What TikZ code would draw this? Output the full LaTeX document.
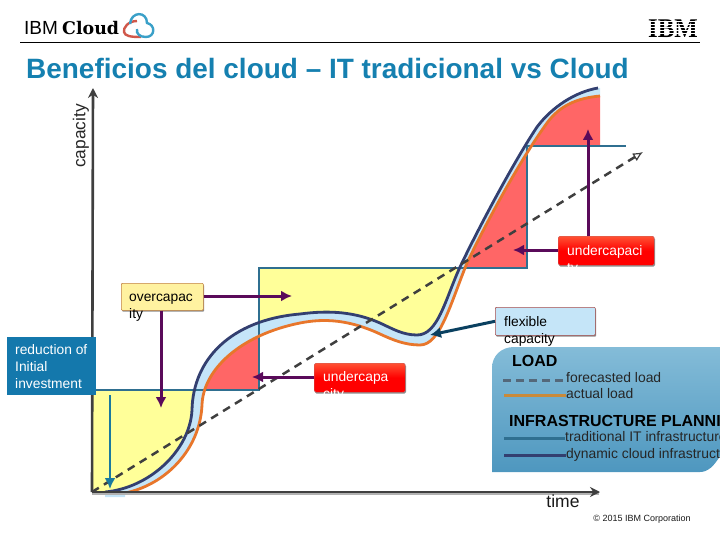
\documentclass[tikz,border=0pt]{standalone}
\usepackage{fontspec}
\setmainfont{Liberation Sans}
\newfontfamily\slabfont{DejaVu Serif}
\newfontfamily\ibmfont{Liberation Serif}
\usetikzlibrary{arrows.meta,shadows}
\definecolor{titleblue}{HTML}{1580B0}
\definecolor{fillyellow}{HTML}{FFFF99}
\definecolor{fillred}{HTML}{FF6666}
\definecolor{bandblue}{HTML}{C5E5F8}
\definecolor{navycurve}{HTML}{333F70}
\definecolor{orangecurve}{HTML}{E8762B}
\definecolor{steplineblue}{HTML}{2F6F90}
\definecolor{axisgrey}{HTML}{3F3F3F}
\definecolor{arrowpurple}{HTML}{5A0A5A}
\definecolor{boxblue}{HTML}{1478AC}
\definecolor{paneltop}{HTML}{84BCD8}
\definecolor{panelbot}{HTML}{4E97BF}
\definecolor{legdash}{HTML}{54687A}
\definecolor{legact}{HTML}{C98A3A}
\definecolor{boxyellow}{HTML}{FFF2A0}
\definecolor{boxbrown}{HTML}{C08040}
\definecolor{flexarrow}{HTML}{0A4060}
\definecolor{reduarrow}{HTML}{1A7A9E}
\definecolor{logored}{HTML}{D0584A}
\definecolor{logoblue}{HTML}{3AA0C8}
\def\navypath{(105,492) .. controls (150,488) and (190,450) .. (192,410) .. controls (193,360) and (230,320) .. (300,314) .. controls (330,310) and (355,312) .. (380,323) .. controls (393,329) and (403,335) .. (417,335) .. controls (438,335) and (445,300) .. (460,267) .. controls (480,225) and (515,160) .. (537,127) .. controls (552,107) and (575,92) .. (598,88)}
\def\orangepath{(125,493) .. controls (165,485) and (200,450) .. (202,405) .. controls (203,370) and (240,335) .. (300,323) .. controls (325,318) and (350,320) .. (380,334) .. controls (393,340) and (405,345) .. (420,345) .. controls (440,345) and (450,305) .. (467,263) .. controls (485,225) and (520,160) .. (547,123) .. controls (560,105) and (578,98) .. (600,96)}
\def\stepline{(92,390) -- (259,390) -- (259,268) -- (527,268) -- (527,146)}
\tikzset{
  callout/.style={-{Latex[length=11pt,width=11pt]},line width=3pt,arrowpurple},
  lbl/.style={inner sep=0pt,anchor=north west,align=left,font=\fontsize{13.8}{16.8}\selectfont},
  legtext/.style={inner sep=0pt,anchor=base west,font=\fontsize{13.9}{15}\selectfont,text=black!85},
  legtitle/.style={inner sep=0pt,anchor=base west,font=\fontsize{16}{16}\selectfont\bfseries,text=black},
  legline/.style={line width=3pt},
  boxshadow/.style={drop shadow={shadow xshift=.8pt,shadow yshift=-1.4pt,fill=black!45,opacity=1}},
  redbox/.style={rounded corners=1.5pt,inner sep=0pt,top color=red!70!orange!80,bottom color=red,middle color=red,draw=red!60!black!60,boxshadow},
}
\begin{document}
\begin{tikzpicture}[x=1pt,y=-1pt]
\useasboundingbox (0,0) rectangle (720,540);
\clip (0,0) rectangle (720,540);
% header
\node[inner sep=0,anchor=base west,font=\fontsize{19}{20}\selectfont] (ibmtxt) at (24,35) {IBM};
\node[inner sep=0,anchor=base west,font=\fontsize{17.4}{20}\selectfont\slabfont\bfseries] (cloudtxt) at (62,35) {Cloud};
\draw[line width=2.4pt,color=logored] (137,21) .. controls (128,21) and (123,28) .. (124,32) .. controls (125,36) and (130,37) .. (141,37);
\draw[line width=2.4pt,color=logoblue] (130,24) .. controls (131,11) and (147,11) .. (147,23) .. controls (156,25) and (155,37) .. (146,37) .. controls (140,37) and (136,34) .. (137,29);
\draw[line width=.8pt,black] (20,42) -- (700,42);
\node[inner sep=0,anchor=base west,font=\fontsize{27}{27}\selectfont\ibmfont\bfseries,xscale=.92] (ibmlogo) at (648,38) {IBM};
\foreach \yy in {21.5,24.5,27.5,30.5,33.5}{\fill[white] (646,\yy) rectangle (698,\yy+.9);}
\node[inner sep=0,anchor=base west,font=\fontsize{27.95}{30}\selectfont\bfseries,text=titleblue] (title) at (26,79) {Beneficios del cloud – IT tradicional vs Cloud};
% fills
\begin{scope}
  \clip \navypath -- (598,50) -- (92,50) -- (92,492) -- cycle;
  \fill[fillyellow] \stepline -- (720,146) -- (720,492) -- (92,492) -- cycle;
\end{scope}
\begin{scope}
  \clip \orangepath -- (720,96) -- (720,540) -- (125,540) -- cycle;
  \fill[fillred] \stepline -- (600,146) -- (600,50) -- (92,50) -- cycle;
\end{scope}
\begin{scope}
  \clip \navypath -- (720,88) -- (720,540) -- (105,540) -- cycle;
  \fill[bandblue] \orangepath -- (600,0) -- (0,0) -- (0,497) -- (125,497) -- cycle;
\end{scope}
% step line
\draw[line width=2.4pt,steplineblue] (92,390) -- (259,390) -- (259,268) -- (527,268) -- (527,146) -- (626,146);
% curves
\draw[line width=2.8pt,orangecurve] \orangepath;
\draw[line width=2.8pt,navycurve] \navypath;
% axes
\fill[black!30] (92,492) rectangle (599,495);
\coordinate (origin) at (92,492);
\coordinate (ytop) at (93,88);
\coordinate (xend) at (600,492);
\draw[line width=2.6pt,axisgrey,-{Stealth[length=10pt,width=10pt]}] (origin) -- (ytop);
\draw[line width=2.6pt,axisgrey,-{Stealth[length=10pt,width=10pt]}] (origin) -- (xend);
% forecast
\coordinate (fend) at (643,152);
\draw[line width=2.5pt,axisgrey,dash pattern=on 8pt off 6pt,-{Latex[open,length=10pt,width=9pt,line width=1.2pt]}] (origin) -- (fend);
\node[inner sep=0,rotate=90,font=\fontsize{17.3}{18}\selectfont,text=black!85] (caplab) at (81,136) {capacity};
\node[inner sep=0,font=\fontsize{17.5}{18}\selectfont,text=black!90] (timelab) at (563,501) {time};
\node[inner sep=0,font=\fontsize{9}{10}\selectfont,text=black!90] (copy) at (642,519) {© 2015 IBM Corporation};
% legend panel
\path[top color=paneltop,bottom color=panelbot] (492,472) -- (492,368) .. controls (492,356) and (501,347) .. (514,347) -- (720,347) -- (720,456) .. controls (714,466) and (708,472) .. (700,472) -- cycle;
\node[legtitle] (loadt) at (512,366) {LOAD};
\node[legtext] (l1) at (566,382) {forecasted load};
\node[legtext] (l2) at (566,398) {actual load};
\node[legtitle] (inft) at (509,426) {INFRASTRUCTURE PLANNING};
\node[legtext] (l3) at (565,441) {traditional IT infrastructure};
\node[legtext] (l4) at (566,458) {dynamic cloud infrastructure};
\coordinate (s1) at (503,380); \coordinate (s2) at (504,395); \coordinate (s3) at (504,438); \coordinate (s4) at (504,455);
\draw[legline,color=legdash,dash pattern=on 8pt off 5pt] (s1) -- (l1.west|-s1);
\draw[legline,color=legact] (s2) -- (l2.west|-s2);
\draw[legline,color=steplineblue] (s3) -- (l3.west|-s3);
\draw[legline,color=navycurve] (s4) -- (l4.west|-s4);
% callout boxes
\node[rectangle,inner sep=0,minimum width=82pt,minimum height=27pt,anchor=north west,fill=boxyellow,draw=boxbrown,line width=.6pt,rounded corners=1pt,boxshadow] (over) at (121,283) {};
\node[rectangle,inner sep=0,minimum width=89pt,minimum height=58pt,anchor=north west,fill=boxblue] (redu) at (7,337) {};
\node[rectangle,minimum width=91pt,minimum height=29pt,anchor=north west,redbox] (undera) at (314,363) {};
\node[rectangle,minimum width=96pt,minimum height=29pt,anchor=north west,redbox] (underb) at (558,236) {};
\node[rectangle,inner sep=0,minimum width=100pt,minimum height=28pt,anchor=north west,fill=bandblue,draw=red!50!black!70,line width=.6pt,rounded corners=1pt,boxshadow] (flex) at (495,307) {};
\node[lbl] (overt) at (129,294) {overcapac\\ity};
\node[lbl,text=white] (redut) at (15,344.5) {reduction of\\Initial\\investment};
\node[lbl,text=white] (underat) at (323,371) {undercapa\\city};
\node[lbl,text=white] (underbt) at (567,245) {undercapaci\\ty};
\node[lbl] (flext) at (504,316) {flexible\\capacity};
% connectors
\coordinate (c1) at (292,296); \coordinate (c2) at (161,408); \coordinate (c3) at (252,377);
\coordinate (c4) at (513,250); \coordinate (c5) at (588,129); \coordinate (c6) at (430,335); \coordinate (c7) at (110,489);
\draw[callout] (over.east|-c1) -- (c1);
\draw[callout] (over.south-|c2) -- (c2);
\draw[callout] (undera.west|-c3) -- (c3);
\draw[callout] (underb.west|-c4) -- (c4);
\draw[callout] (underb.north-|c5) -- (c5);
\draw[callout,color=flexarrow] (flex.west) -- (c6);
\draw[callout,color=reduarrow,line width=2.4pt] (redu.south-|c7) -- (c7);
\end{tikzpicture}
\end{document}
